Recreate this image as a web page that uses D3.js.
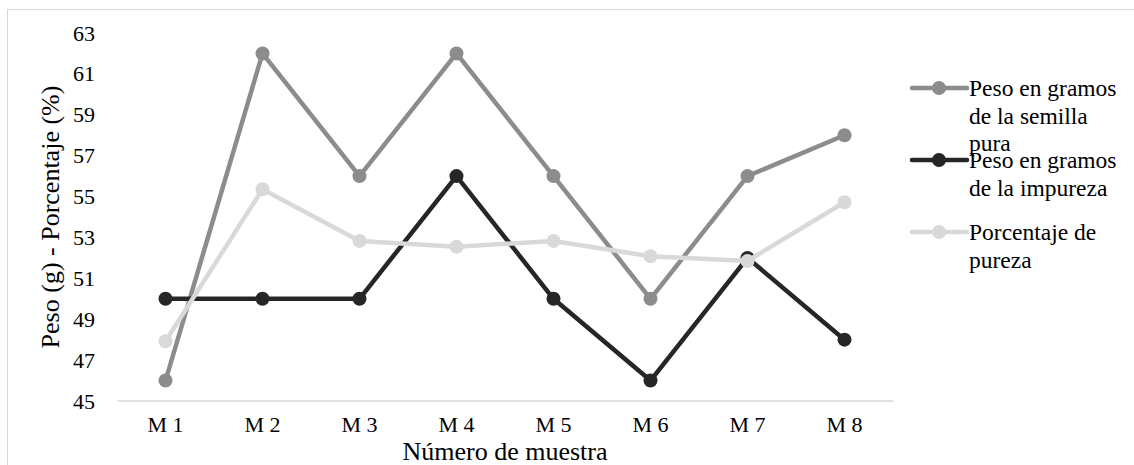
<!DOCTYPE html>
<html>
<head>
<meta charset="utf-8">
<script src="https://cdn.jsdelivr.net/npm/d3@7"></script>
<style>
  body { margin: 0; background: #fff; }
  text { font-family: "Liberation Serif", "Times New Roman", serif; fill: #000; }
</style>
</head>
<body>
<svg id="chart" width="1134" height="465"></svg>
<script>
// data
var muestras = ["M 1", "M 2", "M 3", "M 4", "M 5", "M 6", "M 7", "M 8"];
var pesoPura = [46, 62, 56, 62, 56, 50, 56, 58];
var pesoImpureza = [50, 50, 50, 56, 50, 46, 52, 48];
var porcentajePureza = [47.92, 55.36, 52.83, 52.54, 52.83, 52.08, 51.85, 54.72];
var yTicks = [45, 47, 49, 51, 53, 55, 57, 59, 61, 63];

var series = [
  { name: ["Peso en gramos", "de la semilla", "pura"], values: pesoPura, color: "#8c8c8c", ly: 88 },
  { name: ["Peso en gramos", "de la impureza"], values: pesoImpureza, color: "#262626", ly: 160 },
  { name: ["Porcentaje de", "pureza"], values: porcentajePureza, color: "#d9d9d9", ly: 232 }
];

var serif = "'Liberation Serif', 'Times New Roman', serif";
var svg = d3.select("#chart");

// outer chart border (runs off the right and bottom of the picture)
svg.append("rect")
  .attr("x", 7.5).attr("y", 9.5)
  .attr("width", 1200).attr("height", 500)
  .attr("fill", "none").attr("stroke", "#d9d9d9");

var x = d3.scaleBand().domain(muestras).range([117, 893]);
var y = d3.scaleLinear().domain([45, 63]).range([401, 33]);

// y tick labels
var yAxis = svg.append("g")
  .attr("transform", "translate(117,0)")
  .call(d3.axisLeft(y).tickValues(yTicks).tickSize(0).tickPadding(22));
yAxis.attr("font-family", null).attr("font-size", null);
yAxis.select(".domain").remove();
yAxis.selectAll("text")
  .style("font-family", serif).style("font-size", "22px").attr("fill", "#000");

// x axis
var xAxis = svg.append("g")
  .attr("transform", "translate(0,400.5)")
  .call(d3.axisBottom(x).tickSize(0).tickPadding(16));
xAxis.attr("font-family", null).attr("font-size", null);
xAxis.select(".domain").attr("stroke", "#d9d9d9").attr("stroke-width", 1.5);
xAxis.selectAll("text")
  .style("font-family", serif).style("font-size", "22px").attr("fill", "#000");

// axis titles
svg.append("text")
  .attr("x", 505).attr("y", 460)
  .attr("text-anchor", "middle")
  .style("font-size", "26px")
  .text("Número de muestra");

svg.append("text")
  .attr("transform", "translate(59,217) rotate(-90)")
  .attr("text-anchor", "middle")
  .style("font-size", "26px")
  .text("Peso (g) - Porcentaje (%)");

var line = d3.line()
  .x(function(d, i) { return x(muestras[i]) + x.bandwidth() / 2; })
  .y(function(d) { return y(d); });

series.forEach(function(s) {
  var g = svg.append("g");
  g.append("path")
    .datum(s.values)
    .attr("d", line)
    .attr("fill", "none")
    .attr("stroke", s.color)
    .attr("stroke-width", 4.5)
    .attr("stroke-linejoin", "round");
  g.selectAll("circle")
    .data(s.values)
    .enter()
    .append("circle")
    .attr("cx", function(d, i) { return x(muestras[i]) + x.bandwidth() / 2; })
    .attr("cy", function(d) { return y(d); })
    .attr("r", 7)
    .attr("fill", s.color);
});

// legend
var legend = svg.append("g");
series.forEach(function(s) {
  legend.append("line")
    .attr("x1", 912).attr("x2", 967)
    .attr("y1", s.ly).attr("y2", s.ly)
    .attr("stroke", s.color).attr("stroke-width", 4.5)
    .attr("stroke-linecap", "round");
  legend.append("circle")
    .attr("cx", 939).attr("cy", s.ly).attr("r", 7)
    .attr("fill", s.color);
  var t = legend.append("text")
    .attr("x", 969).attr("y", s.ly + 8)
    .style("font-size", "23.5px");
  s.name.forEach(function(n, i) {
    t.append("tspan")
      .attr("x", 969).attr("dy", i == 0 ? 0 : 27.5)
      .text(n);
  });
});
</script>
</body>
</html>
